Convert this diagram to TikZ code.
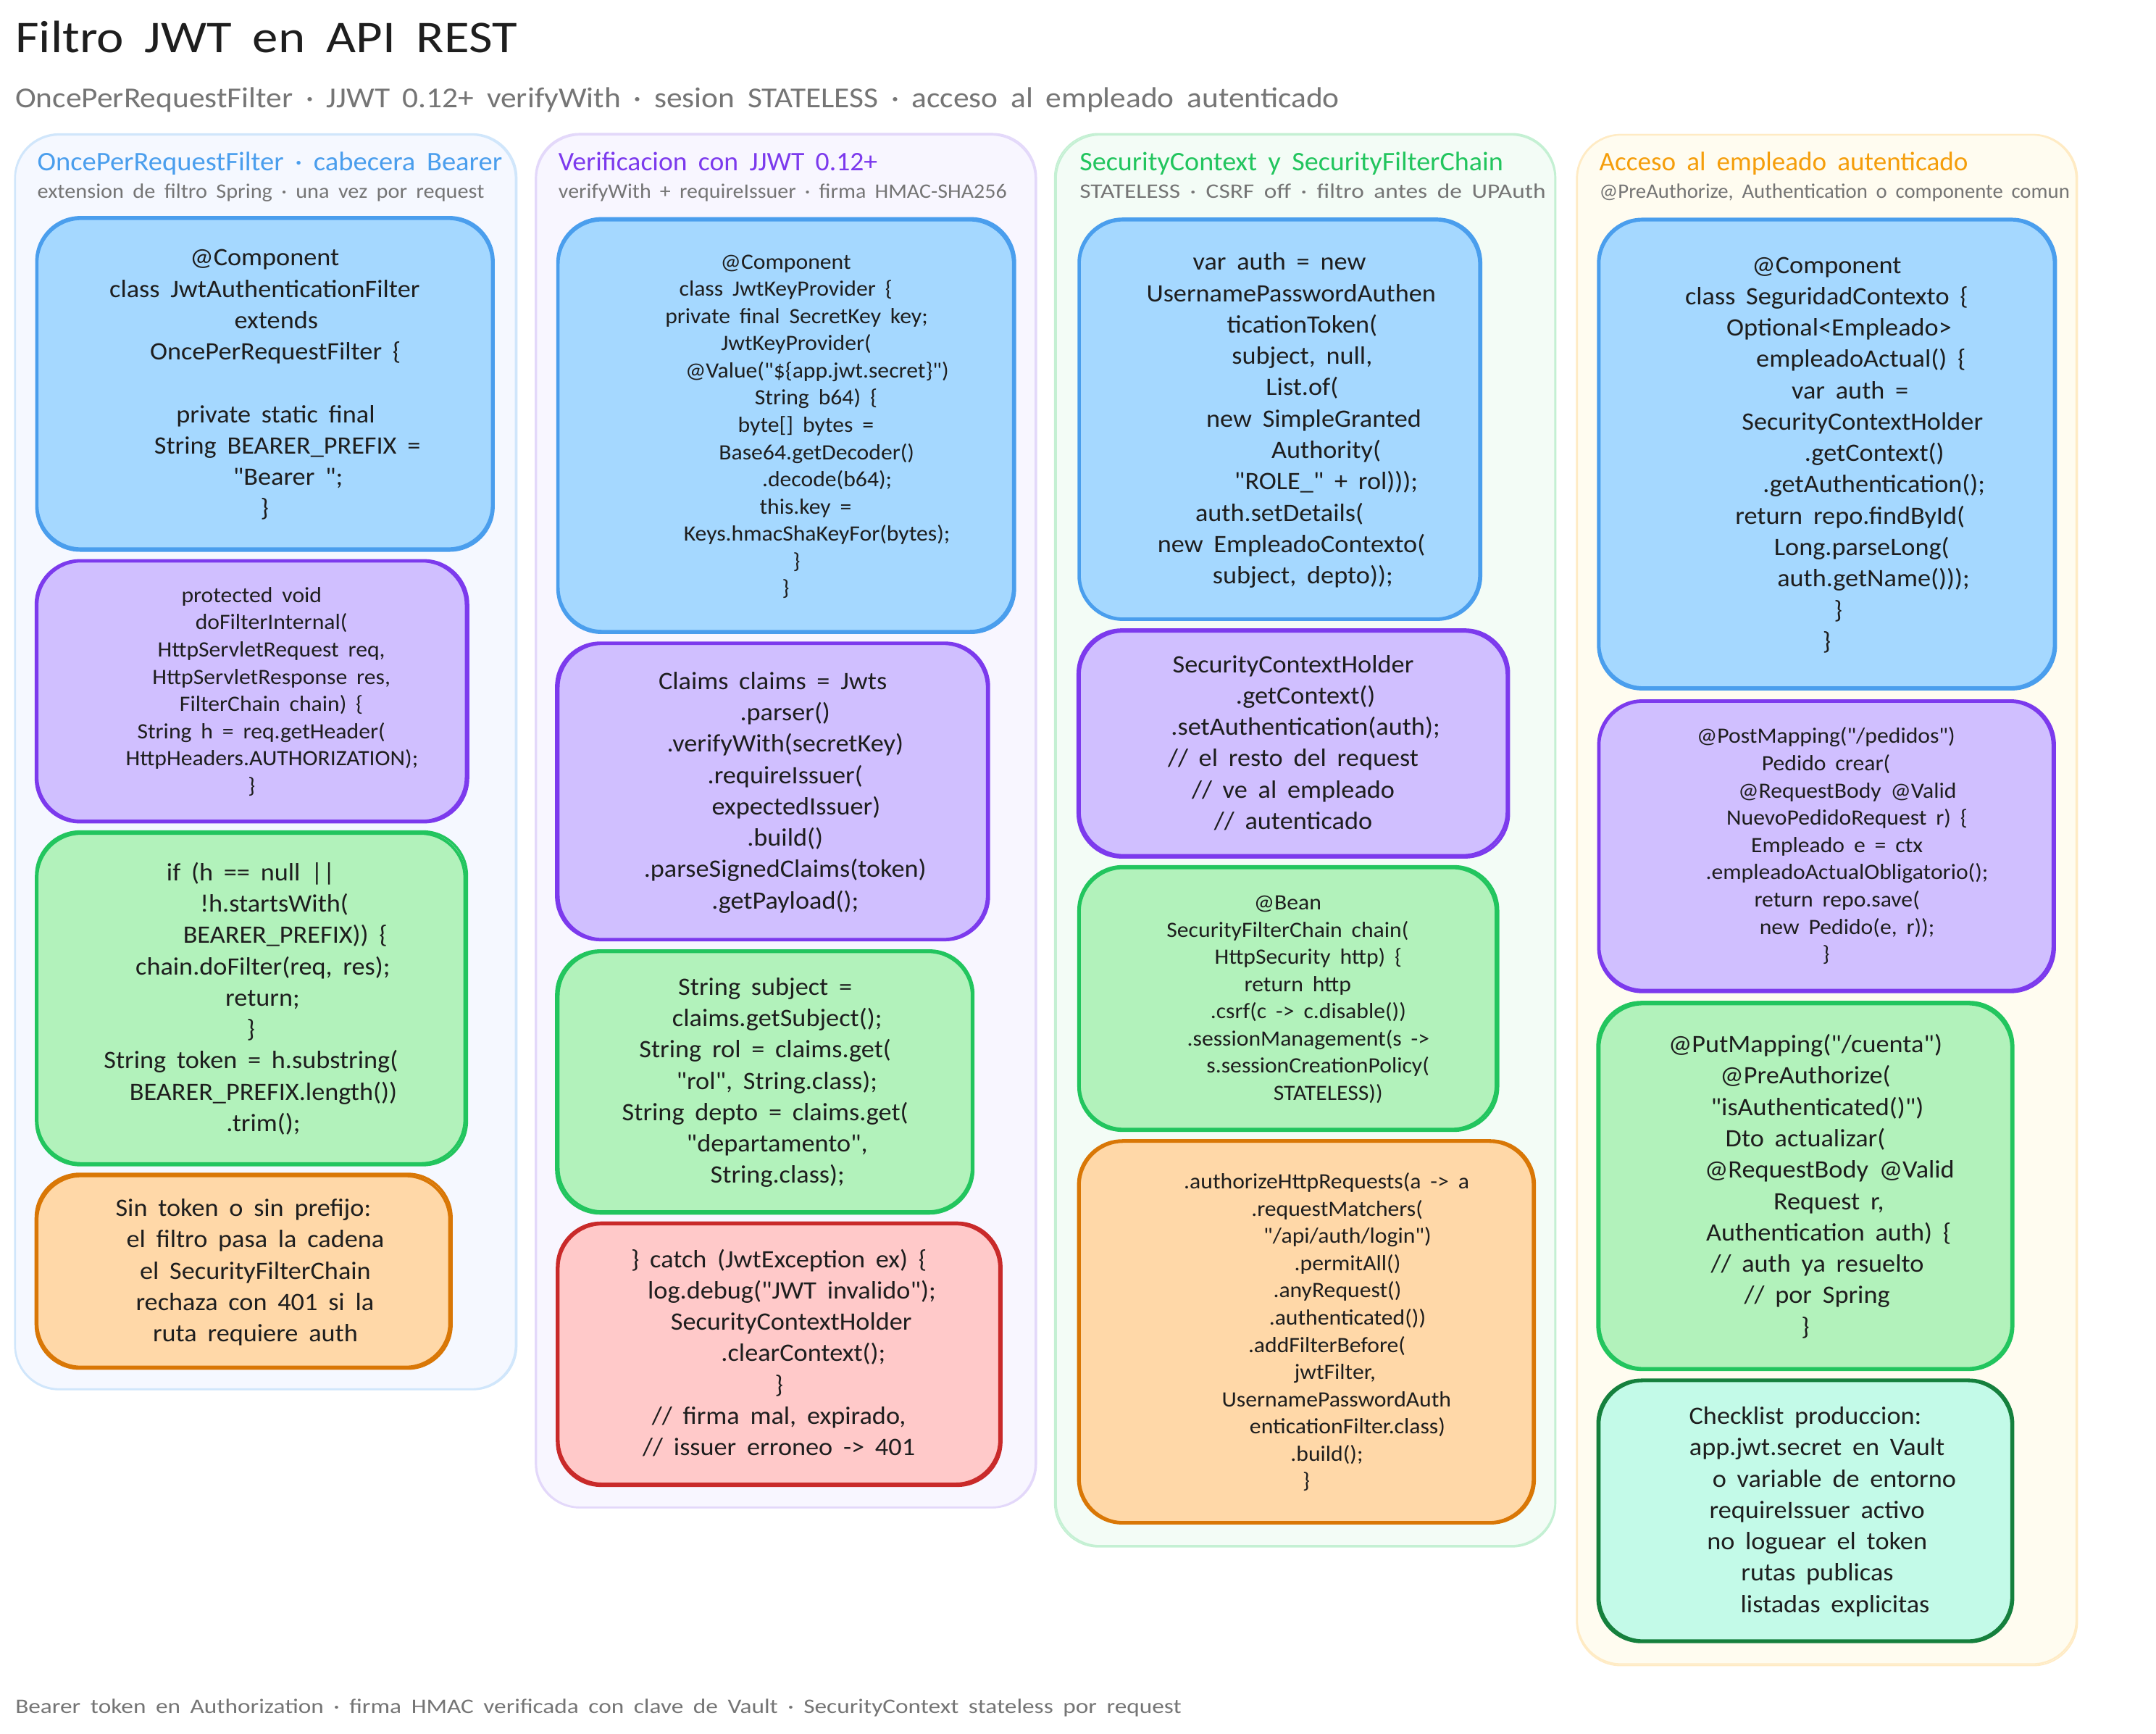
\documentclass[tikz,border=0pt]{standalone}
\usepackage{graphicx}
\usepackage{fontspec}
\setmainfont{Carlito}[Ligatures=TeXOff,FakeStretch=1.05,WordSpace=1.8]
\definecolor{ink}{HTML}{1E1E1E}
\definecolor{muted}{HTML}{757575}
\definecolor{fblue}{HTML}{A5D8FF}\definecolor{sblue}{HTML}{4A9EED}
\definecolor{fpurple}{HTML}{D0BFFF}\definecolor{spurple}{HTML}{7C3AED}
\definecolor{fgreen}{HTML}{B2F2BB}\definecolor{sgreen}{HTML}{22C55E}
\definecolor{forange}{HTML}{FFD8A8}\definecolor{sorange}{HTML}{D97706}
\definecolor{fred}{HTML}{FFC9C9}\definecolor{sred}{HTML}{C92A2A}
\definecolor{fteal}{HTML}{C3FAE8}\definecolor{steal}{HTML}{15803D}
\definecolor{pblue}{HTML}{F5F8FF}\definecolor{eblue}{HTML}{D0E6FB}
\definecolor{ppurple}{HTML}{F8F6FF}\definecolor{epurple}{HTML}{E3D8FA}
\definecolor{pgreen}{HTML}{F3FCF6}\definecolor{egreen}{HTML}{C4F0D3}
\definecolor{pamber}{HTML}{FFFCF0}\definecolor{eamber}{HTML}{FFEBC4}
\definecolor{tamber}{HTML}{F59E0B}
\tikzset{
  cardbox/.style={rectangle,rounded corners=32pt,line width=2pt,inner sep=0pt,align=center,text=ink},
  big/.style={font=\fontsize{18.2}{22.8}\selectfont},
  small/.style={font=\fontsize{15.9}{19.8}\selectfont},
  cblue/.style={fill=fblue,draw=sblue},
  cpurple/.style={fill=fpurple,draw=spurple},
  cgreen/.style={fill=fgreen,draw=sgreen},
  corange/.style={fill=forange,draw=sorange},
  cred/.style={fill=fred,draw=sred},
  cteal/.style={fill=fteal,draw=steal},
  panel/.style={rectangle,rounded corners=32pt,line width=1.2pt,inner sep=0pt},
  label/.style={anchor=base west,inner sep=0pt},
  maintitle/.style={label,text=ink,font=\fontsize{33}{38}\selectfont},
  subtitle/.style={label,text=muted,font=\fontsize{21}{25}\selectfont},
  coltitle/.style={label,font=\fontsize{19.5}{24}\selectfont},
  colsub/.style={label,text=muted,font=\fontsize{15}{18}\selectfont},
}
\newcommand{\sh}[1]{\hspace*{\dimexpr 2\dimexpr #1pt\relax\relax}\rule[-.3em]{0pt}{1.2em}}
\newcommand{\fit}[2]{\resizebox{#1pt}{\height}{#2}}
\newcommand{\pnl}[7]{%
  \pgfmathsetmacro\bw{#4-#2}\pgfmathsetmacro\bh{#5-#3}%
  \node[panel,fill=#6,draw=#7,minimum width=\bw pt,minimum height=\bh pt] (#1) at ({(#2+#4)/2},{(#3+#5)/2}) {};
  \pgfmathsetmacro\oa{rand*.6}\pgfmathsetmacro\ob{rand*.6}\pgfmathsetmacro\oc{rand*.6}\pgfmathsetmacro\od{rand*.6}%
  \draw[draw=#7,line width=1pt,rounded corners=32pt] ([shift={(\oa pt,\ob pt)}]#1.north west) rectangle ([shift={(\oc pt,\od pt)}]#1.south east);
}
\newcommand{\card}[7]{%
  \pgfmathsetmacro\bw{#4-#2}\pgfmathsetmacro\bh{#5-#3}%
  \node[cardbox,#6,minimum width=\bw pt,minimum height=\bh pt] (#1) at ({(#2+#4)/2},{(#3+#5)/2}) {#7};
  \pgfmathsetmacro\oa{rand*.55}\pgfmathsetmacro\ob{rand*.55}\pgfmathsetmacro\oc{rand*.55}\pgfmathsetmacro\od{rand*.55}%
  \draw[#6,fill=none,line width=1.8pt,rounded corners=32pt] ([shift={(\oa pt,\ob pt)}]#1.north west) rectangle ([shift={(\oc pt,\od pt)}]#1.south east);
}
\begin{document}
\begin{tikzpicture}[x=1pt,y=1pt,yscale=-1]
\pgfmathsetseed{11}
\useasboundingbox (0,0) rectangle (1568,1260.8);
\fill[white] (0,0) rectangle (1568,1260.8);

\node[maintitle] (title) at (11,38) {\fit{365}{Filtro JWT en API REST}};
\node[subtitle] (subt) at (11,78) {\fit{963}{OncePerRequestFilter · JJWT 0.12+ verifyWith · sesion STATELESS · acceso al empleado autenticado}};
\node[colsub] (foot) at (11,1246) {\fit{848}{Bearer token en Authorization · firma HMAC verificada con clave de Vault · SecurityContext stateless por request}};

\pnl{p1}{11}{98}{375}{1010}{pblue}{eblue}
\pnl{p2}{390}{98}{753}{1096}{ppurple}{epurple}
\pnl{p3}{768}{98}{1131}{1124}{pgreen}{egreen}
\pnl{p4}{1147}{98}{1510}{1210}{pamber}{eamber}

\node[coltitle,text=sblue] (t1) at (27,124) {\fit{338}{OncePerRequestFilter · cabecera Bearer}};
\node[colsub] (s1) at (27,144) {\fit{325}{extension de filtro Spring · una vez por request}};
\node[coltitle,text=spurple] (t2) at (406,124) {\fit{232}{Verificacion con JJWT 0.12+}};
\node[colsub] (s2) at (406,144) {\fit{326}{verifyWith + requireIssuer · firma HMAC-SHA256}};
\node[coltitle,text=sgreen] (t3) at (785,124) {\fit{308}{SecurityContext y SecurityFilterChain}};
\node[colsub] (s3) at (785,144) {\fit{339}{STATELESS · CSRF off · filtro antes de UPAuth}};
\node[coltitle,text=tamber] (t4) at (1163,124) {\fit{268}{Acceso al empleado autenticado}};
\node[colsub] (s4) at (1163,144) {\fit{342}{@PreAuthorize, Authentication o componente comun}};

% column 1
\card{a1}{27}{159}{358}{399}{cblue,big}{\sh{0}@Component\\
\sh{0}class JwtAuthenticationFilter\\
\sh{8.4}extends\\
\sh{7.8}OncePerRequestFilter \{\\
\sh{0}\\
\sh{8}private static final\\
\sh{16.5}String BEARER\_PREFIX =\\
\sh{17}"Bearer ";\\
\sh{0}\}}
\card{a2}{27}{408}{339}{597}{cpurple,small}{\sh{0}protected void\\
\sh{14.4}doFilterInternal(\\
\sh{14.4}HttpServletRequest req,\\
\sh{14.4}HttpServletResponse res,\\
\sh{14.4}FilterChain chain) \{\\
\sh{7}String h = req.getHeader(\\
\sh{14.8}HttpHeaders.AUTHORIZATION);\\
\sh{0}\}}
\card{a3}{27}{606}{338}{846}{cgreen,big}{\sh{0}if (h == null ||\\
\sh{17}!h.startsWith(\\
\sh{25}BEARER\_PREFIX)) \{\\
\sh{8.7}chain.doFilter(req, res);\\
\sh{8.5}return;\\
\sh{0}\}\\
\sh{0}String token = h.substring(\\
\sh{9}BEARER\_PREFIX.length())\\
\sh{9}.trim();}
\card{a4}{27}{855}{327}{994}{corange,big}{\sh{0}Sin token o sin prefijo:\\
\sh{8.7}el filtro pasa la cadena\\
\sh{8.7}el SecurityFilterChain\\
\sh{8.4}rechaza con 401 si la\\
\sh{8.7}ruta requiere auth}

% column 2
\card{b1}{406}{160}{737}{459}{cblue,small}{\sh{0}@Component\\
\sh{0}class JwtKeyProvider \{\\
\sh{7.8}private final SecretKey key;\\
\sh{7.5}JwtKeyProvider(\\
\sh{22.8}@Value("\$\{app.jwt.secret\}")\\
\sh{22}String b64) \{\\
\sh{14.6}byte[] bytes =\\
\sh{22.4}Base64.getDecoder()\\
\sh{30}.decode(b64);\\
\sh{14.4}this.key =\\
\sh{22.6}Keys.hmacShaKeyFor(bytes);\\
\sh{7.8}\}\\
\sh{0}\}}
\card{b2}{406}{468}{718}{683}{cpurple,big}{\sh{0}Claims claims = Jwts\\
\sh{9}.parser()\\
\sh{9}.verifyWith(secretKey)\\
\sh{9}.requireIssuer(\\
\sh{17}expectedIssuer)\\
\sh{9}.build()\\
\sh{9}.parseSignedClaims(token)\\
\sh{9}.getPayload();}
\card{b3}{406}{692}{707}{881}{cgreen,big}{\sh{0}String subject =\\
\sh{8.7}claims.getSubject();\\
\sh{0}String rol = claims.get(\\
\sh{8.5}"rol", String.class);\\
\sh{0}String depto = claims.get(\\
\sh{8.7}"departamento",\\
\sh{9}String.class);}
\card{b4}{406}{890}{727}{1079}{cred,big}{\sh{0}\} catch (JwtException ex) \{\\
\sh{9.4}log.debug("JWT invalido");\\
\sh{9}SecurityContextHolder\\
\sh{17.8}.clearContext();\\
\sh{0}\}\\
\sh{0}// firma mal, expirado,\\
\sh{0}// issuer erroneo -> 401}

% column 3
\card{c1}{785}{160}{1076}{450}{cblue,big}{\sh{0}var auth = new\\
\sh{8.5}UsernamePasswordAuthen\\
\sh{16.5}ticationToken(\\
\sh{16.5}subject, null,\\
\sh{16.5}List.of(\\
\sh{25}new SimpleGranted\\
\sh{34}Authority(\\
\sh{34}"ROLE\_" + rol)));\\
\sh{0}auth.setDetails(\\
\sh{8.7}new EmpleadoContexto(\\
\sh{17}subject, depto));}
\card{c2}{785}{459}{1096}{622}{cpurple,big}{\sh{0}SecurityContextHolder\\
\sh{9}.getContext()\\
\sh{9}.setAuthentication(auth);\\
\sh{0}// el resto del request\\
\sh{0}// ve al empleado\\
\sh{0}// autenticado}
\card{c3}{785}{631}{1088}{821}{cgreen,small}{\sh{0}@Bean\\
\sh{0}SecurityFilterChain chain(\\
\sh{15}HttpSecurity http) \{\\
\sh{7.3}return http\\
\sh{15}.csrf(c -> c.disable())\\
\sh{15}.sessionManagement(s ->\\
\sh{22}s.sessionCreationPolicy(\\
\sh{29.4}STATELESS))}
\card{c4}{785}{830}{1115}{1107}{corange,small}{\sh{14.8}.authorizeHttpRequests(a -> a\\
\sh{22.4}.requestMatchers(\\
\sh{30}"/api/auth/login")\\
\sh{30}.permitAll()\\
\sh{22.6}.anyRequest()\\
\sh{30}.authenticated())\\
\sh{15}.addFilterBefore(\\
\sh{21}jwtFilter,\\
\sh{22}UsernamePasswordAuth\\
\sh{30}enticationFilter.class)\\
\sh{15}.build();\\
\sh{0}\}}

% column 4
\card{d1}{1163}{160}{1494}{500}{cblue,big}{\sh{0}@Component\\
\sh{0}class SeguridadContexto \{\\
\sh{9}Optional<Empleado>\\
\sh{25}empleadoActual() \{\\
\sh{17}var auth =\\
\sh{26}SecurityContextHolder\\
\sh{34.7}.getContext()\\
\sh{34.4}.getAuthentication();\\
\sh{17}return repo.findById(\\
\sh{25.5}Long.parseLong(\\
\sh{34}auth.getName()));\\
\sh{8.3}\}\\
\sh{0}\}}
\card{d2}{1163}{510}{1493}{720}{cpurple,small}{\sh{0}@PostMapping("/pedidos")\\
\sh{0}Pedido crear(\\
\sh{15.5}@RequestBody @Valid\\
\sh{15.3}NuevoPedidoRequest r) \{\\
\sh{8}Empleado e = ctx\\
\sh{15.3}.empleadoActualObligatorio();\\
\sh{8}return repo.save(\\
\sh{15.3}new Pedido(e, r));\\
\sh{0}\}}
\card{d3}{1163}{730}{1463}{995}{cgreen,big}{\sh{0}@PutMapping("/cuenta")\\
\sh{0}@PreAuthorize(\\
\sh{8.7}"isAuthenticated()")\\
\sh{0}Dto actualizar(\\
\sh{17.6}@RequestBody @Valid\\
\sh{17}Request r,\\
\sh{17}Authentication auth) \{\\
\sh{8.7}// auth ya resuelto\\
\sh{8.5}// por Spring\\
\sh{0}\}}
\card{d4}{1163}{1004}{1463}{1193}{cteal,big}{\sh{0}Checklist produccion:\\
\sh{8.5}app.jwt.secret en Vault\\
\sh{21}o variable de entorno\\
\sh{8.5}requireIssuer activo\\
\sh{8.5}no loguear el token\\
\sh{8.7}rutas publicas\\
\sh{21.6}listadas explicitas}
\end{tikzpicture}
\end{document}
